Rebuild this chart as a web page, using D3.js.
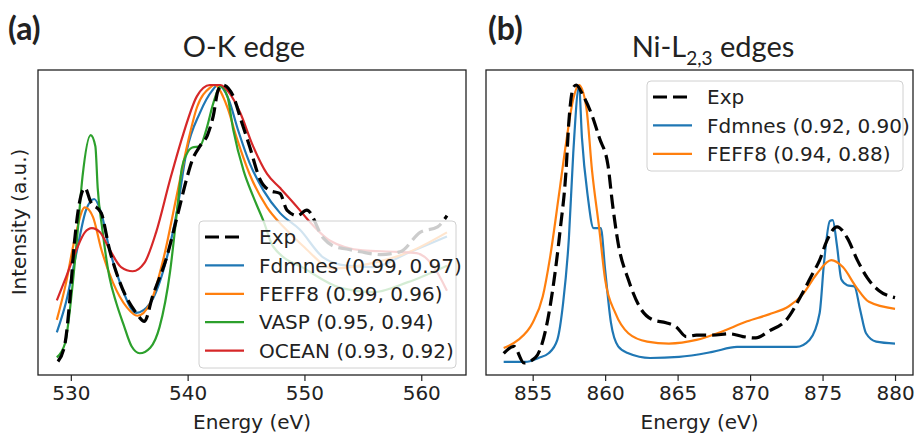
<!DOCTYPE html>
<html>
<head>
<meta charset="utf-8">
<script src="https://cdn.jsdelivr.net/npm/d3@7.9.0/dist/d3.min.js"></script>
<style>
  body { margin: 0; background: #fff; }
  text { font-family: "DejaVu Sans", sans-serif; fill: #222; }
  .title { font-family: Lato, "Open Sans", sans-serif; }
</style>
</head>
<body>
<svg id="chart" width="915" height="435"></svg>
<script>
// ---- O-K edge (energy in eV, normalised intensity) ----
const okExpE = [528.9, 529.5, 529.9, 530.3, 530.8, 531.2, 531.7, 532.6, 533.3, 534.2, 535.6, 536.3, 537.0, 538.2, 539.3, 539.9, 540.4, 541.05, 541.7, 542.2, 542.6, 543.0, 543.9, 544.6, 545.3, 546.2, 547.05, 547.9, 548.5, 549.4, 550.2, 551.6, 552.5, 553.6, 554.8, 556.5, 558.2, 559.9, 561.4, 562.2];
const okExpV = [0.005, 0.07, 0.22, 0.43, 0.59, 0.63, 0.58, 0.54, 0.41, 0.29, 0.18, 0.15, 0.24, 0.38, 0.56, 0.66, 0.73, 0.78, 0.82, 0.89, 0.98, 1.0, 0.96, 0.87, 0.78, 0.66, 0.62, 0.61, 0.55, 0.53, 0.55, 0.45, 0.42, 0.41, 0.40, 0.39, 0.40, 0.47, 0.49, 0.53];

const okFdmnesE = [528.8, 529.6, 530.5, 531.3, 532.0, 532.6, 533.3, 534.2, 535.6, 536.8, 537.9, 539.1, 539.9, 541.05, 542.1, 542.6, 543.5, 544.3, 545.3, 546.5, 547.9, 549.6, 551.6, 553.6, 555.9, 558.8, 562.2];
const okFdmnesV = [0.11, 0.22, 0.40, 0.55, 0.59, 0.54, 0.41, 0.29, 0.18, 0.215, 0.33, 0.55, 0.76, 0.90, 0.98, 1.0, 0.95, 0.84, 0.72, 0.62, 0.54, 0.48, 0.38, 0.35, 0.345, 0.395, 0.455];

const okFeffE = [528.8, 529.6, 530.3, 531.2, 531.9, 532.6, 533.6, 534.8, 535.7, 536.8, 537.9, 539.1, 540.0, 540.8, 541.9, 542.3, 543.4, 544.2, 545.3, 546.8, 548.2, 549.9, 552.5, 555.9, 559.0, 562.2];
const okFeffV = [0.155, 0.29, 0.44, 0.56, 0.525, 0.41, 0.29, 0.20, 0.17, 0.215, 0.37, 0.61, 0.79, 0.92, 0.99, 1.0, 0.92, 0.81, 0.68, 0.56, 0.49, 0.42, 0.34, 0.36, 0.40, 0.47];

const okVaspE = [528.8, 529.5, 530.1, 530.6, 531.0, 531.7, 532.1, 532.3, 532.7, 533.3, 533.9, 534.5, 535.2, 535.9, 536.8, 537.6, 538.5, 539.1, 539.5, 539.9, 540.4, 541.05, 541.6, 542.2, 542.8, 543.4, 543.9, 544.8, 545.6, 546.5, 547.3, 550.2, 553.1, 555.9, 558.8, 562.2];
const okVaspV = [0.02, 0.07, 0.26, 0.48, 0.67, 0.82, 0.78, 0.63, 0.48, 0.31, 0.215, 0.14, 0.06, 0.035, 0.055, 0.13, 0.33, 0.55, 0.70, 0.75, 0.775, 0.78, 0.84, 0.935, 0.995, 0.96, 0.84, 0.69, 0.60, 0.51, 0.42, 0.335, 0.27, 0.255, 0.29, 0.35];

const okOceanE = [528.8, 529.6, 530.5, 531.2, 531.8, 532.5, 533.3, 534.3, 535.3, 536.3, 537.3, 538.5, 539.6, 540.8, 541.9, 542.8, 543.6, 544.5, 545.6, 546.8, 547.9, 549.6, 550.2, 552.2, 555.0, 557.9, 559.6, 561.0, 562.2];
const okOceanV = [0.225, 0.31, 0.41, 0.47, 0.485, 0.47, 0.41, 0.345, 0.33, 0.36, 0.47, 0.66, 0.82, 0.96, 1.0, 1.0, 0.97, 0.90, 0.78, 0.68, 0.63, 0.55, 0.52, 0.44, 0.405, 0.40, 0.395, 0.35, 0.26];

const okLabels = ["Exp", "Fdmnes (0.99, 0.97)", "FEFF8 (0.99, 0.96)", "VASP (0.95, 0.94)", "OCEAN (0.93, 0.92)"];
const okTicks = [530, 540, 550, 560];

// ---- Ni-L2,3 edges ----
const niExpE = [853.0, 853.7, 854.4, 855.2, 855.9, 856.4, 856.9, 857.3, 857.5, 857.8, 858.0, 858.5, 859.1, 859.6, 860.2, 860.5, 860.9, 861.6, 862.4, 863.3, 864.2, 864.9, 865.6, 866.3, 867.4, 868.6, 869.5, 870.4, 871.3, 872.5, 873.6, 874.3, 874.8, 875.3, 876.0, 876.7, 877.4, 878.1, 878.9, 880.0];
const niExpV = [0.035, 0.06, 0.0, 0.02, 0.12, 0.27, 0.48, 0.69, 0.87, 0.99, 1.0, 0.96, 0.89, 0.81, 0.71, 0.575, 0.43, 0.30, 0.20, 0.155, 0.145, 0.13, 0.095, 0.10, 0.10, 0.105, 0.095, 0.09, 0.115, 0.155, 0.25, 0.32, 0.37, 0.44, 0.49, 0.45, 0.37, 0.305, 0.26, 0.235];

const niFdmnesE = [853.0, 854.5, 855.4, 856.1, 856.7, 857.1, 857.5, 857.8, 858.2, 858.4, 858.8, 859.2, 859.7, 860.0, 860.4, 860.9, 861.6, 863.1, 865.1, 867.4, 869.1, 870.9, 873.2, 874.1, 874.8, 875.1, 875.5, 875.7, 876.0, 876.3, 876.7, 877.2, 877.6, 878.0, 878.7, 880.0];
const niFdmnesV = [0.004, 0.004, 0.018, 0.035, 0.083, 0.215, 0.45, 0.755, 0.995, 0.81, 0.60, 0.485, 0.485, 0.335, 0.145, 0.06, 0.035, 0.018, 0.022, 0.04, 0.058, 0.058, 0.058, 0.083, 0.18, 0.36, 0.51, 0.514, 0.42, 0.30, 0.28, 0.275, 0.19, 0.107, 0.077, 0.07];

const niFeffE = [853.0, 854.0, 855.0, 855.7, 856.2, 856.8, 857.3, 857.8, 858.2, 858.7, 859.1, 859.6, 860.0, 860.7, 861.6, 862.9, 864.4, 866.3, 867.9, 869.8, 871.3, 872.7, 873.6, 874.6, 875.6, 876.4, 877.3, 878.2, 880.0];
const niFeffV = [0.054, 0.083, 0.145, 0.24, 0.38, 0.60, 0.79, 0.95, 1.0, 0.92, 0.69, 0.48, 0.30, 0.18, 0.107, 0.077, 0.07, 0.083, 0.11, 0.15, 0.175, 0.205, 0.245, 0.32, 0.37, 0.345, 0.275, 0.22, 0.195];

const niLabels = ["Exp", "Fdmnes (0.92, 0.90)", "FEFF8 (0.94, 0.88)"];
const niTicks = [855, 860, 865, 870, 875, 880];

const colors = ["#000000", "#1f77b4", "#ff7f0e", "#2ca02c", "#d62728"];
const yLimits = [-0.0432, 1.054];

const svg = d3.select("#chart");
svg.append("rect").attr("width", 915).attr("height", 435).attr("fill", "#fff");

function drawPanel(p) {
  const top = 70, bottom = 375;
  const x = d3.scaleLinear().domain(p.xDomain).range([p.left, p.right]);
  const y = d3.scaleLinear().domain(yLimits).range([bottom, top]);
  const g = svg.append("g");

  g.append("clipPath").attr("id", p.id + "-clip")
    .append("rect")
    .attr("x", p.left).attr("y", top)
    .attr("width", p.right - p.left).attr("height", bottom - top);

  const line = d3.line()
    .x((d) => x(d[0]))
    .y((d) => y(d[1]))
    .curve(d3.curveMonotoneX);

  const plot = g.append("g").attr("clip-path", `url(#${p.id}-clip)`);

  // sims first, exp dashed on top
  const order = p.series.map((_, i) => i).slice(1).concat([0]);
  order.forEach((i) => {
    const s = p.series[i];
    plot.append("path")
      .datum(d3.zip(s[0], s[1]))
      .attr("d", line)
      .attr("fill", "none")
      .attr("stroke", colors[i])
      .attr("stroke-width", i === 0 ? 3.2 : 2.2)
      .attr("stroke-dasharray", i === 0 ? "14,6" : null)
      .attr("stroke-linejoin", "round");
  });

  // bottom axis
  const ax = g.append("g")
    .attr("transform", `translate(0,${bottom})`)
    .call(d3.axisBottom(x).tickValues(p.ticks).tickSize(6).tickPadding(5));
  ax.select(".domain").remove();
  ax.selectAll(".tick line").attr("stroke", "#222").attr("stroke-width", 1.2);
  ax.selectAll(".tick text")
    .attr("font-size", 20)
    .attr("font-family", "DejaVu Sans, sans-serif")
    .attr("fill", "#222");

  g.append("rect")
    .attr("x", p.left).attr("y", top)
    .attr("width", p.right - p.left).attr("height", bottom - top)
    .attr("fill", "none").attr("stroke", "#222").attr("stroke-width", 1.3);

  g.append("text")
    .attr("x", (p.left + p.right) / 2).attr("y", 429)
    .attr("text-anchor", "middle").attr("font-size", 20)
    .text("Energy (eV)");

  // legend
  const lg = g.append("g");
  lg.append("rect")
    .attr("x", p.legend.x).attr("y", p.legend.y)
    .attr("width", p.legend.w).attr("height", p.legend.h)
    .attr("rx", 4)
    .attr("fill", "#fff").attr("fill-opacity", 0.8)
    .attr("stroke", "#d0d0d0").attr("stroke-width", 1);
  p.labels.forEach((lab, i) => {
    const ry = p.legend.y + 16 + i * 28.4;
    lg.append("line")
      .attr("x1", p.legend.x + 6).attr("x2", p.legend.x + 45)
      .attr("y1", ry).attr("y2", ry)
      .attr("stroke", colors[i])
      .attr("stroke-width", i === 0 ? 3.2 : 2.2)
      .attr("stroke-dasharray", i === 0 ? "14,6" : null);
    lg.append("text")
      .attr("x", p.legend.x + 60).attr("y", ry)
      .attr("dy", "0.36em")
      .attr("font-size", 20)
      .text(lab);
  });
}

drawPanel({
  id: "ok",
  left: 38, right: 466,
  xDomain: [527.19, 563.83],
  ticks: okTicks,
  series: [[okExpE, okExpV], [okFdmnesE, okFdmnesV], [okFeffE, okFeffV], [okVaspE, okVaspV], [okOceanE, okOceanV]],
  labels: okLabels,
  legend: { x: 199, y: 221, w: 257, h: 147 }
});

drawPanel({
  id: "ni",
  left: 486, right: 913,
  xDomain: [851.78, 881.24],
  ticks: niTicks,
  series: [[niExpE, niExpV], [niFdmnesE, niFdmnesV], [niFeffE, niFeffV]],
  labels: niLabels,
  legend: { x: 647, y: 81, w: 256, h: 90 }
});

// y label
svg.append("text")
  .attr("transform", "translate(26,222) rotate(-90)")
  .attr("text-anchor", "middle").attr("font-size", 20)
  .text("Intensity (a.u.)");

// titles and panel letters
svg.append("text").attr("class", "title")
  .attr("x", 244).attr("y", 57).attr("text-anchor", "middle")
  .attr("font-size", 29).text("O-K edge");

const niTitle = svg.append("text").attr("class", "title")
  .attr("x", 713).attr("y", 57).attr("text-anchor", "middle")
  .attr("font-size", 29);
niTitle.append("tspan").text("Ni-L");
niTitle.append("tspan").attr("font-size", 19).attr("dy", 8).text("2,3");
niTitle.append("tspan").attr("dy", -8).text(" edges");

svg.append("text").attr("class", "title")
  .attr("x", 8).attr("y", 40).attr("font-size", 32).attr("font-weight", "bold")
  .text("(a)");
svg.append("text").attr("class", "title")
  .attr("x", 488).attr("y", 40).attr("font-size", 32).attr("font-weight", "bold")
  .text("(b)");
</script>
</body>
</html>
